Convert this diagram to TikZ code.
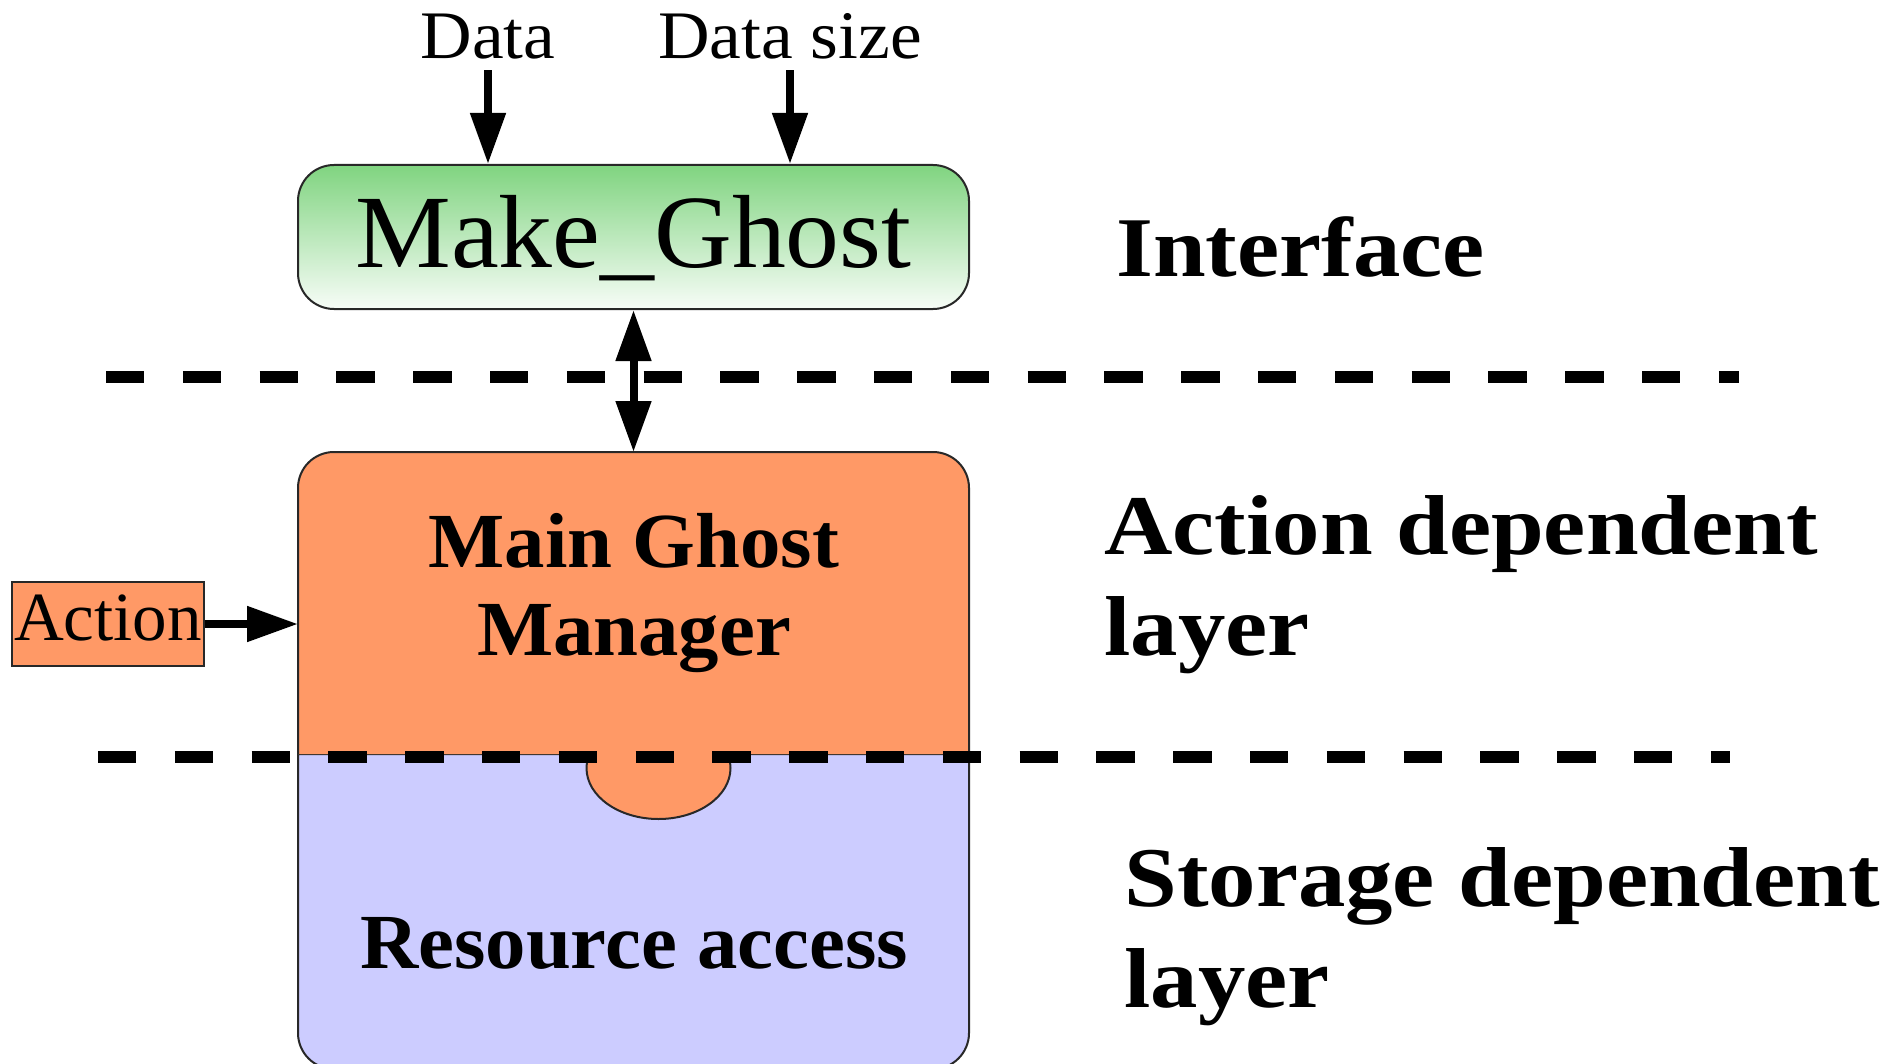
\documentclass[tikz,border=0pt]{standalone}
\usepackage{fontspec}
\setmainfont{Liberation Serif}
\newfontfamily\layerfont{Liberation Serif}[FakeStretch=1.115]
\newfontfamily\boxfont{Liberation Serif}[FakeStretch=1.035]
\newfontfamily\inputfont{Liberation Serif}[FakeStretch=1.05]
\usetikzlibrary{arrows.meta}

\definecolor{ghostorange}{RGB}{255,153,102}
\definecolor{storeblue}{RGB}{204,204,255}
\definecolor{ifgreen}{RGB}{128,212,128}
\definecolor{edgegray}{RGB}{40,40,40}

\begin{document}
\begin{tikzpicture}[x=0.5pt,y=-0.5pt,
  edge/.style={draw=edgegray,line width=1pt},
  flow/.style={line width=4pt,-{Triangle[length=25.5pt,width=17pt]}},
  twoway/.style={line width=4pt,{Triangle[length=25.5pt,width=17pt]}-{Triangle[length=25.5pt,width=17pt]}},
  divider/.style={line width=6pt,dash pattern=on 19.2pt off 19.2pt},
  inlabel/.style={anchor=base,inner xsep=0pt,inner ysep=5pt,
    font=\inputfont\fontsize{34}{40}\selectfont},
  % multi-line labels: the base anchor sits on the last line
  layerlabel/.style={anchor=base west,inner sep=0pt,align=left,
    font=\layerfont\bfseries\fontsize{42.5}{50.5}\selectfont},
  boxlabel/.style={anchor=base,inner sep=0pt,align=center,
    font=\boxfont\bfseries\fontsize{39}{44}\selectfont},
  ifbox/.style={edge,rounded corners=18pt,minimum width=335.5pt,minimum height=72pt,
    inner sep=0pt,text height=36pt,text depth=5pt,
    top color=ifgreen,bottom color=ifgreen!6,
    font=\boxfont\fontsize{52}{60}\selectfont},
  actbox/.style={draw=edgegray,line width=0.8pt,fill=ghostorange,
    minimum width=96pt,minimum height=42pt,inner sep=0pt,
    text height=16pt,text depth=0pt,font=\fontsize{34.5}{40}\selectfont}
]
\useasboundingbox (0,0) rectangle (1900,1064);
\fill[white] (0,0) rectangle (1900,1064);

% storage layer block, rounded at the bottom
\filldraw[fill=storeblue,edge] (298,754) -- (298,1033)
  arc[start angle=180,end angle=90,radius=36] -- (933,1069)
  arc[start angle=90,end angle=0,radius=36] -- (969,754) -- cycle;

% tab of the manager reaching into the storage layer
\filldraw[fill=ghostorange,edge] (658.5,768) ellipse[x radius=72,y radius=51];

% action layer block, rounded at the top
\fill[ghostorange] (298,754) -- (298,488)
  arc[start angle=180,end angle=270,radius=36] -- (933,452)
  arc[start angle=270,end angle=360,radius=36] -- (969,754) -- cycle;
\draw[edge] (298,754) -- (298,488)
  arc[start angle=180,end angle=270,radius=36] -- (933,452)
  arc[start angle=270,end angle=360,radius=36] -- (969,754);
\coordinate (mtop) at (634,452);
\coordinate (mleft) at (298,622);

\node[boxlabel] (mgm) at (634,655) {Main Ghost\\Manager};
\node[boxlabel] (res) at (634,968) {Resource access};

% interface
\node[ifbox] (mg) at (633.5,237) {Make\_Ghost};
\node[inlabel] (data) at (488,59) {Data};
\node[inlabel] (dsize) at (790,59) {Data size};
\node[actbox] (act) at (108,624) {Action};

% layer names
\node[layerlabel] (lif) at (1116,277) {Interface};
\node[layerlabel] (lact) at (1104,655) {Action dependent\\layer};
\node[layerlabel] (lsto) at (1124,1007) {Storage dependent\\layer};

% layer boundaries
\draw[divider] (106,377) -- (1739,377);
\draw[divider] (98,757) -- (1730,757);

% connectors
\draw[flow] (data.south) -- (data.south |- mg.north);
\draw[flow] (dsize.south) -- (dsize.south |- mg.north);
\draw[twoway] (mg.south) -- (mg.south |- mtop);
\draw[flow] (act.east) -- (act.east -| mleft);
\end{tikzpicture}
\end{document}
